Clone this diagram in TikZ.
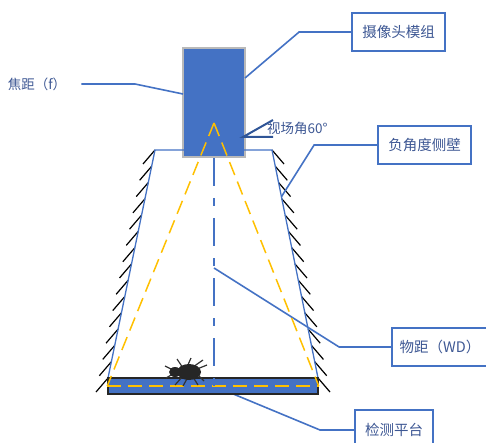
\documentclass[tikz,border=0pt]{standalone}
\usepackage{fontspec}
\newfontfamily\cjk{Noto Sans CJK SC}
\usetikzlibrary{calc,positioning}
\definecolor{boxblue}{RGB}{68,114,196}
\definecolor{darkblue}{RGB}{47,85,151}
\definecolor{txtblue}{RGB}{62,88,148}
\definecolor{beam}{RGB}{255,192,0}
\definecolor{shellgray}{RGB}{185,185,185}
\tikzstyle{callout} = [rectangle, draw=boxblue, line width=1.8pt, fill=white, minimum width=93pt, minimum height=38pt, text=txtblue, font=\cjk\fontsize{14.5}{17}\selectfont]
\tikzstyle{label} = [text=txtblue, inner sep=1pt]
\tikzstyle{leader} = [draw=boxblue, line width=1.6pt]
\tikzstyle{wall} = [draw=boxblue, line width=1.3pt]
\tikzstyle{hatch} = [draw=black, line width=1.2pt]
\tikzstyle{fov} = [draw=beam, line width=1.5pt, dash pattern=on 14pt off 7pt]
\tikzstyle{axis} = [draw=boxblue, line width=1.6pt, dash pattern=on 28pt off 12pt on 8pt off 12pt]

\begin{document}
\begin{tikzpicture}[x=1pt, y=-1pt]
\clip (0,0) rectangle (486,443);

% enclosure corners
\coordinate (tl) at (155,150);
\coordinate (tr) at (272,150);
\coordinate (bl) at (108,378);
\coordinate (br) at (318,378);

% camera
\node (cam) [rectangle, draw=shellgray, line width=2pt, fill=boxblue, minimum width=62pt, minimum height=109pt, inner sep=0pt] at (214,102.5) {};

% hatching on the outer side of the walls
\foreach \i in {0,...,14} {
  \draw [hatch] ($(tl)!\i/14!(bl)$) -- ++(-12,14);
  \draw [hatch] ($(tr)!\i/14!(br)$) -- ++(12,14);
}
\draw [wall] (bl) -- (tl) -- (tr) -- (br);

% tap points for the leaders
\coordinate (camtap) at (245,78);
\coordinate (focustap) at (183,94);
\coordinate (walltap) at ($(tr)!0.205!(br)$);
\coordinate (wdtap) at (214,268);
\coordinate (stagetap) at (214,386);

% labels
\node (lblcam) [callout] at (398.5,32) {摄像头模组};
\node (lblwall) [callout] at (424.5,145) {负角度侧壁};
\node (lblwd) [callout, minimum width=96pt] at (440,347) {物距（WD）};
\node (lblstage) [callout, minimum width=78pt, minimum height=40pt] at (394,430) {检测平台};
\node (lblf) [label, font=\cjk\fontsize{13.5}{16}\selectfont] at (37,84) {焦距（f）};
\node (lblfov) [label, anchor=west, font=\cjk\fontsize{13.5}{16}\selectfont] at (266,128) {视场角60°};

% leaders
\draw [leader] (lblstage.west) -- (320,430) -- (stagetap);

% platform
\node (stage) [rectangle, draw=black!85, line width=1.5pt, fill=boxblue, minimum width=210pt, minimum height=16pt, inner sep=0pt] at (213,386) {};

\draw [leader] (lblcam.west) -- ++(-52,0) -- (camtap);
\draw [leader, shorten <=14pt] (lblf.east) -- (135,84) -- (focustap);
\draw [leader] (lblwall.west) -- ++(-63,0) -- (walltap);
\draw [leader] (lblwd.west) -- ++(-52,0) -- (wdtap);

% field of view and optical axis
\coordinate (apex) at (214,123);
\draw [fov] (apex) -- (stage.west);
\draw [fov] (apex) -- (stage.east);
\draw [fov] (stage.west) -- (stage.east);
\draw [axis] (cam.south) -- (cam.south |- stage.center);

% angle mark
\draw [darkblue, line width=2pt] (273,120) -- (243,137) -- (273,137);

% the mite on the platform
\begin{scope}[shift={(189,372)}]
  \draw [black!80, line width=1.2pt]
    (-6,-4) -- (-12,-13) (-2,-5) -- (2,-14) (4,-5) -- (14,-12) (8,-3) -- (18,-7)
    (-6,4) -- (-14,13) (-1,5) -- (-6,14) (4,5) -- (9,13) (9,3) -- (15,9)
    (-16,-2) -- (-24,-6) (-16,2) -- (-23,6);
  \fill [black!85] (0,0) ellipse (12 and 8);
  \fill [black!85] (-14,0) ellipse (6 and 5);
\end{scope}
\end{tikzpicture}
\end{document}
